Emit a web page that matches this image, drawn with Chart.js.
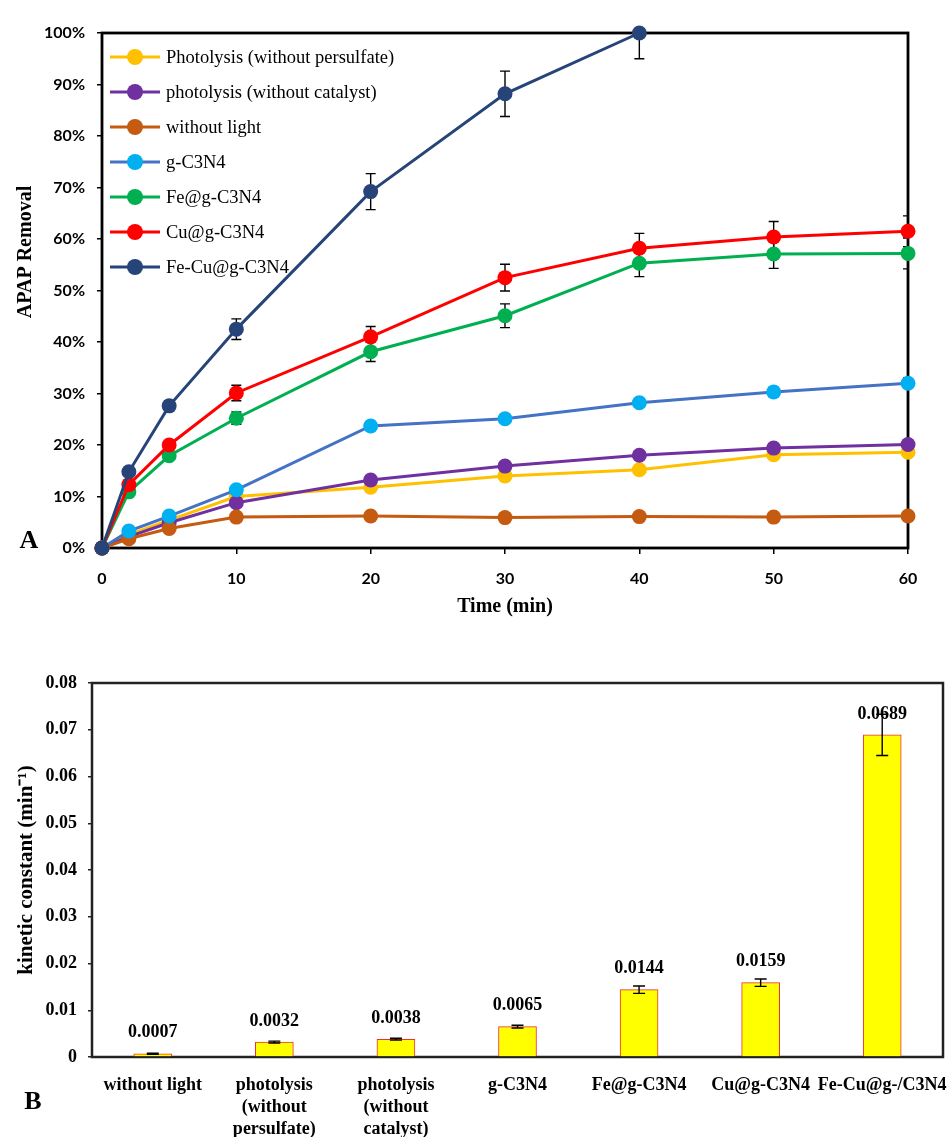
<!DOCTYPE html>
<html>
<head>
<meta charset="utf-8">
<script src="https://cdn.jsdelivr.net/npm/chart.js@4.4.1/dist/chart.umd.min.js"></script>
<style>
  body { margin: 0; background: #fff; }
  #wrap { position: relative; width: 948px; height: 1137px; }
  #graficoA { position: absolute; left: 0; top: 0; }
  #graficoB { position: absolute; left: 0; top: 630px; }
</style>
</head>
<body>
<div id="wrap">
  <canvas id="graficoA" width="948" height="630"></canvas>
  <canvas id="graficoB" width="948" height="507"></canvas>
</div>
<script>
// tiempos de muestreo (min)
const tiempos = [0, 2, 5, 10, 20, 30, 40, 50, 60];

const sinPersulfato = [0, 2.6, 5.4, 10.0, 11.8, 14.0, 15.2, 18.1, 18.6];
const sinCatalizador = [0, 2.2, 4.9, 8.8, 13.2, 15.9, 18.0, 19.4, 20.1];
const sinLuz = [0, 1.8, 3.8, 6.0, 6.2, 5.9, 6.1, 6.0, 6.2];
const gC3N4 = [0, 3.3, 6.2, 11.3, 23.7, 25.1, 28.2, 30.3, 32.0];
const feG = [0, 10.9, 17.9, 25.2, 38.1, 45.1, 55.3, 57.1, 57.2];
const cuG = [0, 12.3, 20.0, 30.1, 41.0, 52.5, 58.2, 60.4, 61.5];
const feCuG = [0, 14.8, 27.6, 42.5, 69.2, 88.2, 100];

// barras de error (%)
const errG = [0, 0, 0, 0, 0, 0, 0.8, 0.9, 1.0];
const errFe = [0, 0, 0, 1.2, 1.9, 2.3, 2.6, 2.8, 3.0];
const errCu = [0, 0, 0, 1.5, 2.0, 2.6, 2.9, 3.0, 3.0];
const errFeCu = [0, 0, 1.0, 2.0, 3.5, 4.4, 5.0];

const nombres = ['Photolysis (without persulfate)', 'photolysis (without catalyst)', 'without light',
  'g-C3N4', 'Fe@g-C3N4', 'Cu@g-C3N4', 'Fe-Cu@g-C3N4'];

// figura B: constantes cinéticas
const categorias = ['without light', ['photolysis', '(without', 'persulfate)'], ['photolysis', '(without', 'catalyst)'],
  'g-C3N4', 'Fe@g-C3N4', 'Cu@g-C3N4', 'Fe-Cu@g-/C3N4'];
const constantes = [0.0007, 0.0032, 0.0038, 0.0065, 0.0144, 0.0159, 0.0689];
const errConstantes = [0.0001, 0.0002, 0.0002, 0.0003, 0.0008, 0.0008, 0.0044];

const serif = "'Liberation Serif', 'Times New Roman', serif";
const sans = "Lato, 'Liberation Sans', sans-serif";

function puntos(valores) {
  return valores.map((v, i) => ({ x: tiempos[i], y: v }));
}

const series = [
  { valores: sinPersulfato, errores: null, linea: '#FFC000', punto: '#FFC000' },
  { valores: sinCatalizador, errores: null, linea: '#7030A0', punto: '#7030A0' },
  { valores: sinLuz, errores: null, linea: '#C55A11', punto: '#C55A11' },
  { valores: gC3N4, errores: errG, linea: '#4472C4', punto: '#00B0F0' },
  { valores: feG, errores: errFe, linea: '#00B050', punto: '#00B050' },
  { valores: cuG, errores: errCu, linea: '#FF0000', punto: '#FF0000' },
  { valores: feCuG, errores: errFeCu, linea: '#264478', punto: '#264478' }
];

// marco negro alrededor del área del gráfico
const marco = {
  id: 'marco',
  beforeDatasetsDraw(chart, args, opts) {
    const { ctx, chartArea: a } = chart;
    ctx.save();
    ctx.strokeStyle = opts.color;
    ctx.lineWidth = opts.width;
    ctx.strokeRect(a.left, a.top, a.right - a.left, a.bottom - a.top);
    ctx.restore();
  }
};

// barras de error del gráfico de líneas
const erroresLinea = {
  id: 'erroresLinea',
  beforeDatasetsDraw(chart) {
    const { ctx, chartArea: a, scales } = chart;
    ctx.save();
    ctx.beginPath();
    ctx.rect(a.left, a.top, a.right - a.left, a.bottom - a.top);
    ctx.clip();
    ctx.strokeStyle = '#000';
    ctx.lineWidth = 1.4;
    chart.data.datasets.forEach(ds => {
      if (!ds.errores) return;
      ds.errores.forEach((e, i) => {
        if (!e) return;
        const x = scales.x.getPixelForValue(tiempos[i]);
        const y1 = scales.y.getPixelForValue(ds.valores[i] + e);
        const y2 = scales.y.getPixelForValue(ds.valores[i] - e);
        ctx.beginPath();
        ctx.moveTo(x, y1); ctx.lineTo(x, y2);
        ctx.moveTo(x - 5, y1); ctx.lineTo(x + 5, y1);
        ctx.moveTo(x - 5, y2); ctx.lineTo(x + 5, y2);
        ctx.stroke();
      });
    });
    ctx.restore();
  }
};

// leyenda dentro del área, con línea y círculo
const leyendaA = {
  id: 'leyendaA',
  afterDatasetsDraw(chart) {
    const { ctx } = chart;
    ctx.save();
    ctx.font = `18.5px ${serif}`;
    ctx.textBaseline = 'middle';
    series.forEach((s, i) => {
      const y = 57 + i * 35;
      ctx.strokeStyle = s.linea;
      ctx.lineWidth = 3;
      ctx.beginPath();
      ctx.moveTo(110, y); ctx.lineTo(160, y);
      ctx.stroke();
      ctx.fillStyle = s.punto;
      ctx.beginPath();
      ctx.arc(135, y, 8, 0, Math.PI * 2);
      ctx.fill();
      ctx.fillStyle = '#000';
      ctx.fillText(nombres[i], 166, y + 1);
    });
    ctx.restore();
  }
};

// textos sueltos: título del eje y y la letra del panel
const textosA = {
  id: 'textosA',
  afterDraw(chart) {
    const { ctx } = chart;
    ctx.save();
    ctx.fillStyle = '#000';
    ctx.textAlign = 'center';
    ctx.textBaseline = 'middle';
    ctx.font = `bold 26px ${serif}`;
    ctx.fillText('A', 29, 541);
    ctx.translate(26, 252);
    ctx.rotate(-Math.PI / 2);
    ctx.font = `bold 20px ${serif}`;
    ctx.fillText('APAP Removal', 0, 0);
    ctx.restore();
  }
};

new Chart(document.getElementById('graficoA'), {
  type: 'line',
  data: {
    datasets: series.map((s, i) => ({
      label: nombres[i],
      data: puntos(s.valores),
      valores: s.valores,
      errores: s.errores,
      borderColor: s.linea,
      backgroundColor: s.punto,
      pointBackgroundColor: s.punto,
      pointBorderColor: s.punto,
      borderWidth: 3,
      pointRadius: 7.5,
      pointBorderWidth: 0,
      tension: 0,
      clip: false,
      order: series.length - i
    }))
  },
  options: {
    responsive: false,
    animation: false,
    layout: { padding: { top: 33, right: 40, left: 0, bottom: 0 } },
    plugins: {
      legend: { display: false },
      tooltip: { enabled: false },
      marco: { color: '#000', width: 2.8 }
    },
    scales: {
      x: {
        type: 'linear',
        min: 0, max: 60,
        afterFit: s => { s.height = 82; },
        border: { display: false },
        grid: { drawOnChartArea: false, drawTicks: true, tickLength: 6, color: '#000', lineWidth: 1.5 },
        ticks: { stepSize: 10, padding: 15, color: '#000', font: { family: sans, size: 16, weight: 'bold' } },
        title: { display: true, text: 'Time (min)', color: '#000', padding: { top: 0, bottom: 11 },
          font: { family: serif, size: 20, weight: 'bold' } }
      },
      y: {
        min: 0, max: 100,
        afterFit: s => { s.width = 102; },
        border: { display: false },
        grid: { drawOnChartArea: false, drawTicks: true, tickLength: 5, color: '#000', lineWidth: 1.5 },
        ticks: { stepSize: 10, padding: 12, color: '#000', callback: v => v + '%',
          font: { family: sans, size: 16, weight: 'bold' } }
      }
    }
  },
  plugins: [marco, erroresLinea, leyendaA, textosA]
});

// barras de error y valores sobre las barras
const etiquetasB = {
  id: 'etiquetasB',
  afterDatasetsDraw(chart) {
    const { ctx, scales } = chart;
    const meta = chart.getDatasetMeta(0);
    ctx.save();
    ctx.strokeStyle = '#000';
    ctx.lineWidth = 1.4;
    constantes.forEach((v, i) => {
      const x = meta.data[i].x;
      const y1 = scales.y.getPixelForValue(v + errConstantes[i]);
      const y2 = scales.y.getPixelForValue(v - errConstantes[i]);
      ctx.beginPath();
      ctx.moveTo(x, y1); ctx.lineTo(x, y2);
      ctx.moveTo(x - 6, y1); ctx.lineTo(x + 6, y1);
      ctx.moveTo(x - 6, y2); ctx.lineTo(x + 6, y2);
      ctx.stroke();
    });
    ctx.fillStyle = '#000';
    ctx.textAlign = 'center';
    ctx.textBaseline = 'middle';
    ctx.font = `bold 18px ${serif}`;
    constantes.forEach((v, i) => {
      const x = meta.data[i].x;
      const y = scales.y.getPixelForValue(v) - 21;
      ctx.fillText(v.toFixed(4), x, y);
    });
    ctx.font = `bold 26px ${serif}`;
    ctx.fillText('B', 33, 472);
    ctx.restore();
  }
};

new Chart(document.getElementById('graficoB'), {
  type: 'bar',
  data: {
    labels: categorias,
    datasets: [{
      label: 'kinetic constant',
      data: constantes,
      backgroundColor: '#FFFF00',
      borderColor: '#E8303A',
      borderWidth: 1,
      barThickness: 38
    }]
  },
  options: {
    responsive: false,
    animation: false,
    layout: { padding: { top: 53, right: 5, left: 0, bottom: 0 } },
    plugins: {
      legend: { display: false },
      tooltip: { enabled: false },
      marco: { color: '#222', width: 2.5 }
    },
    scales: {
      x: {
        afterFit: s => { s.height = 80; s.paddingLeft = 0; s.paddingRight = 0; },
        border: { display: false },
        grid: { display: false },
        ticks: { padding: 9, color: '#000', maxRotation: 0, autoSkip: false,
          font: { family: serif, size: 18, weight: 'bold', lineHeight: 1.22 } }
      },
      y: {
        min: 0, max: 0.08,
        afterFit: s => { s.width = 92; },
        border: { display: false },
        grid: { drawOnChartArea: false, drawTicks: true, tickLength: 4, color: '#222', lineWidth: 1.5 },
        ticks: { stepSize: 0.01, padding: 11, color: '#000',
          callback: v => v === 0 ? '0' : v.toFixed(2),
          font: { family: serif, size: 18, weight: 'bold' } },
        title: { display: true, text: 'kinetic constant (min⁻¹)', color: '#000', padding: { top: 14, bottom: 0 },
          font: { family: serif, size: 21, weight: 'bold' } }
      }
    }
  },
  plugins: [marco, etiquetasB]
});
</script>
</body>
</html>
